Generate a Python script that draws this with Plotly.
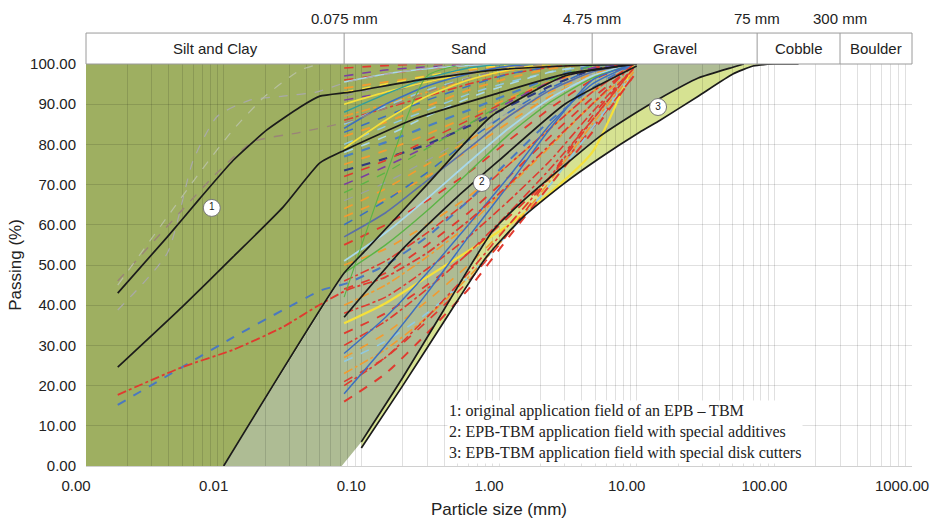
import numpy as np
import plotly.graph_objects as go

# ---------------- data ----------------
SIEVE = [0.075, 0.15, 0.3, 0.6, 1.18, 2.36, 4.75, 9.5]

# gradation curves measured on the sand sieves: (colour, dash, width, passing %)
SAND_CURVES = [
    ("#e03a2f", "dash", 1.6, [99, 99.6, 100, 100, 100, 100, 100, 100]),
    ("#7b3fa0", "dash", 1.6, [97, 98.5, 99.3, 99.8, 100, 100, 100, 100]),
    ("#e03a2f", "dash", 1.5, [96, 97.5, 98.8, 99.6, 100, 100, 100, 100]),
    ("#a8d8ea", "solid", 1.5, [95.5, 97.5, 98.8, 99.6, 100, 100, 100, 100]),
    ("#f29b30", "dash", 1.8, [94, 95.5, 97, 98.5, 99.5, 100, 100, 100]),
    ("#f5e03a", "dash", 1.5, [93, 95, 97, 98.8, 99.7, 100, 100, 100]),
    ("#999999", "dash", 1.3, [92, 94.5, 96.5, 98, 99.2, 100, 100, 100]),
    ("#7b3fa0", "dash", 1.4, [91, 93, 95.5, 97.5, 99, 100, 100, 100]),
    ("#f5e03a", "solid", 1.6, [90, 93, 95.5, 97.5, 99, 100, 100, 100]),
    ("#2f9e9e", "solid", 1.4, [88, 92.5, 96.5, 99, 100, 100, 100, 100]),
    ("#f29b30", "dashdot", 1.6, [87, 90, 93, 96, 98.3, 99.6, 100, 100]),
    ("#e03a2f", "dashdot", 1.6, [86, 89, 92, 95, 97.5, 99.2, 100, 100]),
    ("#8fc9e3", "dash", 1.5, [85, 89.5, 93.5, 96.5, 98.8, 100, 100, 100]),
    ("#3c6fc0", "solid", 1.6, [84, 90, 94.5, 97.5, 99.5, 100, 100, 100]),
    ("#3c6fc0", "dash", 1.5, [83, 87, 91, 94.5, 97.5, 99.3, 100, 100]),
    ("#f29b30", "dash", 2.0, [82, 85.5, 89.5, 93.5, 96.5, 98.8, 100, 100]),
    ("#8fc9e3", "dash", 1.5, [80, 84.5, 88.5, 92.5, 95.5, 98, 99.5, 100]),
    ("#f5e03a", "solid", 1.6, [79, 86, 92, 96, 98.5, 100, 100, 100]),
    ("#a8d8ea", "dash", 1.6, [78, 82, 87, 91.5, 95, 98, 99.8, 100]),
    ("#4a7fc0", "dash", 2.2, [77, 80.5, 84.5, 88.5, 92.5, 96.5, 99.5, 100]),
    ("#f29b30", "dash", 1.8, [75, 78.5, 82.5, 87, 91.5, 95.5, 98.5, 100]),
    ("#2e3a80", "dash", 2.2, [73.5, 76.5, 80, 84.5, 89.5, 94.5, 98.5, 100]),
    ("#e03a2f", "dash", 1.6, [72, 76, 81, 86, 91, 95.5, 99, 100]),
    ("#7b3fa0", "dash", 1.6, [70, 74.5, 79.5, 85, 90.5, 95.5, 99, 100]),
    ("#5bb445", "dash", 1.3, [68, 73, 79, 85, 91, 96, 99.5, 100]),
    ("#9aa0a8", "dash", 1.2, [66, 70.5, 76, 82, 88, 93.5, 97.5, 100]),
    ("#f29b30", "dash", 1.6, [64, 69, 75, 81, 87, 93, 97.5, 100]),
    ("#f29b30", "dash", 1.8, [62, 66.5, 72, 78.5, 85.5, 92, 97, 100]),
    ("#3c6fc0", "dash", 1.6, [60, 66, 73, 81, 88, 94, 98.5, 100]),
    ("#5a6fa8", "solid", 1.6, [57, 63, 71, 79, 87, 93.5, 98, 100]),
    ("#e03a2f", "dash", 1.8, [55, 60, 66, 73, 81, 89, 96, 100]),
    ("#a8d8ea", "solid", 1.8, [51, 58, 66.5, 75.5, 84, 91.5, 97, 100]),
    ("#f29b30", "dash", 1.8, [50, 54, 60, 67, 75, 84, 93, 100]),
    ("#5bb445", "solid", 1.4, [48, 55, 63.5, 73, 82.5, 90.5, 96.5, 100]),
    ("#e03a2f", "dashdot", 1.6, [46, 51, 58, 66, 75, 84, 93, 100]),
    ("#e03a2f", "dash", 1.8, [44, 48, 55, 63, 72, 82, 91.5, 99.5]),
    ("#5bb445", "solid", 1.1, [42, 72, 97, 100, 100, 100, 100, 100]),
    ("#f29b30", "dashdot", 1.6, [40, 45, 52, 60, 69.5, 79.5, 90, 98.5]),
    ("#e03a2f", "dashdot", 1.6, [38, 42, 49, 57, 66, 76, 88, 99]),
    ("#f5e03a", "solid", 2.2, [35.5, 40.5, 47, 53.5, 60, 68, 78, 100]),
    ("#e03a2f", "dash", 1.8, [33, 38, 45, 53, 62, 72, 84, 97]),
    ("#e03a2f", "dashdot", 1.6, [30, 36, 44, 53, 63, 74, 86, 99]),
    ("#3c6fc0", "solid", 1.4, [28, 37, 48, 60, 72, 85, 95, 100]),
    ("#f29b30", "dash", 1.6, [27, 33, 41, 50, 60, 72, 86, 99]),
    ("#8fc9e3", "dash", 1.6, [26, 31, 38, 47, 58, 70, 84, 98]),
    ("#f29b30", "dashdot", 1.6, [23, 29, 37, 47, 58, 71, 85, 98]),
    ("#e03a2f", "dash", 1.6, [21, 27, 36, 46, 58, 72, 87, 99]),
    ("#e03a2f", "dashdot", 1.6, [20, 27, 37, 48, 60, 72, 86, 99]),
    ("#3c6fc0", "solid", 1.5, [18, 30, 43, 57, 70, 84, 96, 100]),
    ("#e03a2f", "dash", 2.0, [16, 23, 33, 44, 57, 70, 83, 97]),
]

# curves that start in the silt & clay range
FINE_BLUE_X = [0.0017, 0.005, 0.0117, 0.027, 0.052, 0.079, 0.15, 0.3, 0.6, 1.18, 2.36, 4.75, 9.5]
FINE_BLUE_Y = [15.2, 24.6, 32, 38.8, 43.8, 45.5, 50, 57, 66, 76, 86, 94, 100]
FINE_RED_X = [0.0017, 0.005, 0.0117, 0.027, 0.047, 0.079, 0.15, 0.3, 0.6, 1.18, 2.36, 4.75, 9.5]
FINE_RED_Y = [17.7, 24.6, 28.9, 34.6, 39.6, 43.8, 47, 53, 61, 70, 80, 90, 100]
FINE_BROWN_X = [0.0017, 0.005, 0.009, 0.0163, 0.036, 0.079, 0.15, 0.3, 0.6, 1.18, 2.36]
FINE_BROWN_Y = [46, 63.7, 73, 80.6, 83, 85.6, 89, 93, 96.5, 99, 100]
FINE_GREY_X = [0.0017, 0.0039, 0.006, 0.009, 0.0155, 0.027, 0.047, 0.079, 0.15, 0.3, 0.6, 1.18]
FINE_GREY_Y = [38.8, 53, 76, 87, 91, 92, 93, 95.5, 97.5, 99, 99.8, 100]
FINE_SAGE_X = [0.0017, 0.0039, 0.0067, 0.0117, 0.02, 0.036, 0.05]
FINE_SAGE_Y = [45, 62, 73, 83.6, 92, 98.5, 100]

# boundary curves of the application fields
U1_X = [0.0017, 0.0039, 0.0067, 0.0117, 0.0206, 0.036, 0.05, 0.083, 0.26, 0.93, 3, 10]
U1_Y = [43, 57, 66.5, 76, 83.6, 89.3, 92, 93, 96, 98.5, 99.5, 100]
U2_X = [0.0017, 0.005, 0.0117, 0.027, 0.05, 0.075, 0.25, 0.93, 3, 10]
U2_Y = [24.6, 39.6, 52, 64.4, 75.4, 78.5, 86.5, 92.5, 97.5, 100]
C_X = [0.01, 0.075, 0.11, 0.3, 0.88, 3, 10]
C_Y = [0, 48, 54, 70, 87, 97, 100]
D_X = [0.075, 0.2, 0.5, 1, 3, 10]
D_Y = [37, 54, 67, 76, 90, 99.5]
L2_X = [0.1, 0.2, 0.4, 0.9, 1.5, 2.9, 5.4, 10, 14, 28, 50, 60]
L2_Y = [6, 22, 39, 58.5, 66, 74.4, 82, 88, 91, 96.5, 99.2, 100]
L3_X = [0.1, 0.2, 0.4, 0.81, 1.5, 2.9, 5.4, 10.5, 14.8, 28, 50, 70, 100, 150]
L3_Y = [4.5, 20, 36, 52, 62, 70, 76.6, 83, 86, 92, 97.5, 99.5, 100, 100]
FIELD2_TOE_X = 0.072

FIELD_LABELS = ["1", "2", "3"]
FIELD_LABEL_X = [0.0082, 0.75, 14.3]
FIELD_LABEL_Y = [64.2, 70.4, 89.3]

CLASS_NAMES = ["Silt and Clay", "Sand", "Gravel", "Cobble", "Boulder"]
CLASS_EDGES = [0.001, 0.075, 4.75, 75, 300, 1000]
EDGE_LABELS = ["0.075 mm", "4.75 mm", "75 mm", "300 mm"]

X_TICKS = [0.001, 0.01, 0.1, 1, 10, 100, 1000]
X_TICKTEXT = ["0.00", "0.01", "0.10", "1.00", "10.00", "100.00", "1000.00"]
X_MINOR = [k * 10.0 ** e for e in range(-3, 3) for k in range(2, 10)]

NOTE = ("1: original application field of an EPB \u2013 TBM<br>"
        "2: EPB-TBM application field with special additives<br>"
        "3: EPB-TBM application field with special disk cutters")

OLIVE = "rgb(158,175,97)"
SAGE = "rgb(174,188,148)"
LIME = "rgb(214,226,146)"
FONT = "Liberation Sans, Arial, sans-serif"

# ---------------- figure ----------------
fig = go.Figure()


def lg(v):
    return float(np.log10(v))


def path(xs, ys):
    # shape coordinates on a log axis are given in data units
    pts = [f"{x},{y}" for x, y in zip(xs, ys)]
    return "M " + " L ".join(pts) + " Z"


# filled application fields (as shapes below the grid so the grid shows through)
olive_x = [0.001] + C_X + [0.001]
olive_y = [0] + C_Y + [100]
sage_x = C_X + L2_X[::-1] + [FIELD2_TOE_X]
sage_y = C_Y + L2_Y[::-1] + [0]
lime_x = L3_X + L2_X[::-1]
lime_y = L3_Y + L2_Y[::-1]
for xs, ys, col in [(olive_x, olive_y, OLIVE), (sage_x, sage_y, SAGE), (lime_x, lime_y, LIME)]:
    fig.add_shape(type="path", path=path(xs, ys), xref="x", yref="y",
                  fillcolor=col, line=dict(width=0), layer="below")

# gradation curves
for col, dash, w, ys in SAND_CURVES:
    fig.add_trace(go.Scatter(x=SIEVE, y=ys, mode="lines",
                             line=dict(color=col, dash=dash, width=w, shape="spline", smoothing=0.6),
                             hoverinfo="skip"))

for xs, ys, col, dash, w in [
    (FINE_BROWN_X, FINE_BROWN_Y, "#9a8478", "dash", 1.4),
    (FINE_GREY_X, FINE_GREY_Y, "#a9a9a9", "dash", 1.2),
    (FINE_SAGE_X, FINE_SAGE_Y, "#b7c0a0", "dash", 1.2),
    (FINE_BLUE_X, FINE_BLUE_Y, "#4a78c0", "dash", 2.0),
    (FINE_RED_X, FINE_RED_Y, "#e03a2f", "dashdot", 1.8),
]:
    fig.add_trace(go.Scatter(x=xs, y=ys, mode="lines",
                             line=dict(color=col, dash=dash, width=w, shape="spline", smoothing=0.6),
                             hoverinfo="skip"))

# black boundaries
for xs, ys in [(U1_X, U1_Y), (U2_X, U2_Y), (C_X, C_Y), (D_X, D_Y), (L2_X, L2_Y), (L3_X, L3_Y)]:
    fig.add_trace(go.Scatter(x=xs, y=ys, mode="lines",
                             line=dict(color="#1b1b1b", width=1.7, shape="spline", smoothing=0.5),
                             hoverinfo="skip"))

# field labels
fig.add_trace(go.Scatter(x=FIELD_LABEL_X, y=FIELD_LABEL_Y, mode="markers+text",
                         text=FIELD_LABELS, textposition="middle center",
                         textfont=dict(family=FONT, size=10, color="#222"),
                         marker=dict(size=17, color="white", line=dict(color="#777", width=1)),
                         hoverinfo="skip"))

# header band with soil classes
HEAD_TOP = 1.077
fig.add_shape(type="rect", xref="paper", yref="paper", x0=0, x1=1, y0=1, y1=HEAD_TOP,
              fillcolor="white", line=dict(color="#9a9a9a", width=1))
for e in CLASS_EDGES[1:-1]:
    fig.add_shape(type="line", xref="x", yref="paper", x0=e, x1=e, y0=1, y1=HEAD_TOP,
                  line=dict(color="#9a9a9a", width=1))
for name, a, b in zip(CLASS_NAMES, CLASS_EDGES[:-1], CLASS_EDGES[1:]):
    fig.add_annotation(x=(lg(a) + lg(b)) / 2, y=(1 + HEAD_TOP) / 2, xref="x", yref="paper",
                       xanchor="center", yanchor="middle",
                       text=name, showarrow=False, font=dict(family=FONT, size=15, color="#222"))
for lab, e in zip(EDGE_LABELS, CLASS_EDGES[1:-1]):
    fig.add_annotation(x=lg(e), y=1.112, xref="x", yref="paper", text=lab, showarrow=False,
                       xanchor="center", yanchor="middle",
                       font=dict(family=FONT, size=15, color="#222"))

fig.add_annotation(x=0.437, y=0.163, xref="paper", yref="paper", xanchor="left", yanchor="top",
                   align="left", showarrow=False, text=NOTE, bgcolor="white",
                   font=dict(family="Liberation Serif, Times New Roman, serif", size=16, color="#222"))

GRID = "rgba(0,0,0,0.12)"
fig.update_layout(
    width=934, height=522,
    margin=dict(l=86, r=22, t=64, b=56),
    paper_bgcolor="white", plot_bgcolor="white",
    showlegend=False,
    font=dict(family=FONT, size=15, color="#222"),
    xaxis=dict(type="log", range=[-3, 3], tickmode="array", tickvals=X_TICKS, ticktext=X_TICKTEXT,
               showgrid=True, gridcolor=GRID, gridwidth=1, zeroline=False, automargin=False,
               ticks="outside", ticklen=6, tickcolor="rgba(0,0,0,0)", ticklabelshift=-10,
               minor=dict(tickvals=X_MINOR, showgrid=True, gridcolor=GRID, gridwidth=1, ticks=""),
               showline=True, linecolor="#d0d0d0",
               title=dict(text="Particle size (mm)", font=dict(size=17), standoff=10)),
    yaxis=dict(range=[0, 100], tickmode="linear", tick0=0, dtick=10, tickformat=".2f",
               showgrid=True, gridcolor=GRID, gridwidth=1, zeroline=False, automargin=False,
               ticks="outside", ticklen=6, tickcolor="rgba(0,0,0,0)",
               title=dict(text="Passing (%)", font=dict(size=17), standoff=4)),
)

fig.write_html("out.html")
